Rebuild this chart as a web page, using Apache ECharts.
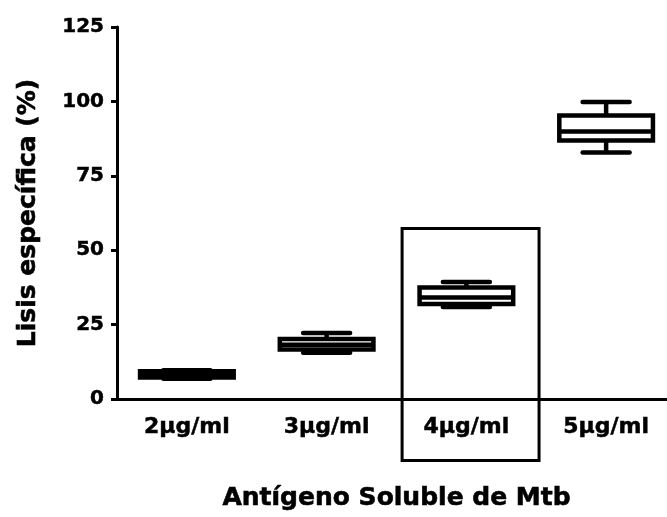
<!DOCTYPE html>
<html>
<head>
<meta charset="utf-8">
<script src="https://cdn.jsdelivr.net/npm/echarts@6/dist/echarts.min.js"></script>
<style>
  html, body { margin: 0; padding: 0; background: #fff; }
  #chart { width: 667px; height: 517px; }
</style>
</head>
<body>
<div id="chart"></div>
<script>
var categories = ['2µg/ml', '3µg/ml', '4µg/ml', '5µg/ml'];
var lowWhisker = [6.8, 15.5, 30.9, 82.8];
var quart1 = [7.2, 16.6, 31.9, 86.9];
var medians = [8.2, 18.2, 34.1, 89.9];
var quart3 = [9.3, 20.2, 37.5, 95.3];
var highWhisker = [9.7, 22.2, 39.3, 99.8];
var yTicks = [0, 25, 50, 75, 100, 125];
var highlighted = '4µg/ml';

var boxData = [];
for (var i = 0; i < categories.length; i++) {
    boxData.push([i, lowWhisker[i], quart1[i], medians[i], quart3[i], highWhisker[i]]);
}

var font = 'DejaVu Sans';
var chart = echarts.init(document.getElementById('chart'));

var option = {
    animation: false,
    grid: {
        left: 117,
        right: -9,
        top: 27,
        bottom: 118,
        outerBoundsMode: 'none'
    },
    xAxis: {
        type: 'category',
        data: categories,
        name: 'Antígeno Soluble de Mtb',
        nameLocation: 'middle',
        nameGap: 87,
        nameTextStyle: { fontFamily: font, fontWeight: 'bold', fontSize: 25, color: '#000',
                         textBorderColor: '#000', textBorderWidth: 0.6 },
        axisLine: { lineStyle: { color: '#000', width: 3 } },
        axisTick: { alignWithLabel: true, length: 6, lineStyle: { color: '#000', width: 3 } },
        axisLabel: { margin: 17, fontFamily: font, fontWeight: 'bold', fontSize: 22, color: '#000',
                     textBorderColor: '#000', textBorderWidth: 0.5 },
        splitLine: { show: false }
    },
    yAxis: {
        type: 'value',
        min: yTicks[0],
        max: yTicks[yTicks.length - 1],
        interval: 25,
        name: 'Lisis específica (%)',
        nameLocation: 'middle',
        nameGap: 76,
        nameTextStyle: { fontFamily: font, fontWeight: 'bold', fontSize: 25, color: '#000',
                         textBorderColor: '#000', textBorderWidth: 0.6 },
        axisLine: { show: true, lineStyle: { color: '#000', width: 3 } },
        axisTick: { show: true, length: 6, lineStyle: { color: '#000', width: 3 } },
        axisLabel: { margin: 13, fontFamily: font, fontWeight: 'bold', fontSize: 20, color: '#000',
                     textBorderColor: '#000', textBorderWidth: 0.5 },
        splitLine: { show: false }
    },
    series: [{
        type: 'custom',
        data: boxData,
        encode: { x: 0, y: [1, 2, 3, 4, 5] },
        renderItem: function (params, api) {
            var idx = api.value(0);
            var band = api.size([1, 0])[0];
            var half = band * 0.335;
            var capHalf = band * 0.168;
            var pLow = api.coord([idx, api.value(1)]);
            var pQ1 = api.coord([idx, api.value(2)]);
            var pMed = api.coord([idx, api.value(3)]);
            var pQ3 = api.coord([idx, api.value(4)]);
            var pHigh = api.coord([idx, api.value(5)]);
            var cx = pMed[0];
            var stroke = { stroke: '#000', lineWidth: 4.5, fill: null };
            var capStyle = { stroke: '#000', lineWidth: 4.5, lineCap: 'round' };
            return {
                type: 'group',
                children: [
                    { type: 'line', shape: { x1: cx, y1: pHigh[1], x2: cx, y2: pQ3[1] }, style: stroke },
                    { type: 'line', shape: { x1: cx, y1: pQ1[1], x2: cx, y2: pLow[1] }, style: stroke },
                    { type: 'line', shape: { x1: cx - capHalf, y1: pHigh[1], x2: cx + capHalf, y2: pHigh[1] }, style: capStyle },
                    { type: 'line', shape: { x1: cx - capHalf, y1: pLow[1], x2: cx + capHalf, y2: pLow[1] }, style: capStyle },
                    { type: 'rect', shape: { x: cx - half, y: pQ3[1], width: half * 2, height: pQ1[1] - pQ3[1] },
                      style: { stroke: '#000', lineWidth: 4.5, fill: '#fff' } },
                    { type: 'line', shape: { x1: cx - half, y1: pMed[1], x2: cx + half, y2: pMed[1] }, style: stroke }
                ]
            };
        }
    }]
};
chart.setOption(option);

// frame around the highlighted concentration
var hiIdx = categories.indexOf(highlighted);
var bandPx = chart.convertToPixel({ xAxisIndex: 0 }, 1) - chart.convertToPixel({ xAxisIndex: 0 }, 0);
var hiX = chart.convertToPixel({ xAxisIndex: 0 }, hiIdx);
var frameTop = chart.convertToPixel({ yAxisIndex: 0 }, 57.3);
var axisY = chart.convertToPixel({ yAxisIndex: 0 }, 0);
chart.setOption({
    graphic: [{
        type: 'rect',
        shape: {
            x: hiX - bandPx * 0.46,
            y: frameTop,
            width: bandPx * 0.98,
            height: axisY + 61.5 - frameTop
        },
        style: { stroke: '#000', lineWidth: 3, fill: null },
        z: 10
    }]
});
</script>
</body>
</html>
